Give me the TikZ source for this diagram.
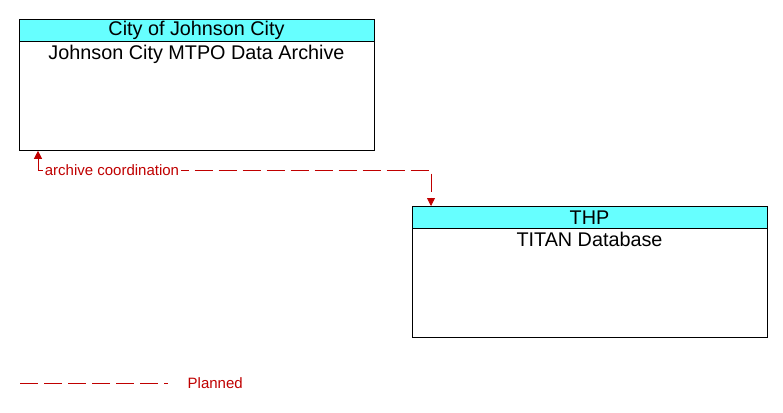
\documentclass[tikz,border=0pt]{standalone}
\usepackage{fontspec}
\setmainfont{Liberation Sans}
\usetikzlibrary{arrows.meta}
\definecolor{hdrcyan}{RGB}{102,255,255}
\definecolor{flowred}{RGB}{192,0,0}
\tikzset{
  head/.style={draw, fill=hdrcyan, minimum width=355pt, minimum height=22pt, inner sep=0pt, anchor=north, font=\fontsize{19.8}{20}\selectfont},
  body/.style={draw, fill=white, minimum width=355pt, minimum height=109pt, inner sep=0pt, anchor=north},
  bodytext/.style={anchor=north, inner sep=0pt, font=\fontsize{19.8}{20}\selectfont},
  flowline/.style={flowred, line width=0.8pt, dash pattern=on 18pt off 6pt},
  flowlabel/.style={text=flowred, fill=white, inner sep=1.5pt, font=\fontsize{15}{16}\selectfont}
}
\begin{document}
\begin{tikzpicture}[x=1pt, y=-1pt]
    \useasboundingbox (0,0) rectangle (783,412);

    % City of Johnson City
    \node[head] (cityhead) at (196.5,19) {City of Johnson City};
    \node[body] (archive) at (cityhead.south) {};
    \node[bodytext] (archivetext) at ([yshift=-4pt]archive.north) {Johnson City MTPO Data Archive};

    % THP
    \node[head] (thphead) at (589.5,206) {THP};
    \node[body] (titan) at (thphead.south) {};
    \node[bodytext] (titantext) at ([yshift=-4pt]titan.north) {TITAN Database};

    % archive coordination flow
    \coordinate (bend1) at (38,170);
    \coordinate (bend2) at (431,170);
    \draw[flowline, {Triangle[length=8pt,width=8pt]}-{Triangle[length=8pt,width=8pt]}]
        (archive.south -| bend1) -- (bend1) -- (bend2) -- (thphead.north -| bend2);
    \node[flowlabel] (coordlabel) at (112,170) {archive coordination};

    % legend
    \coordinate (legstart) at (20,383);
    \coordinate (legend) at (168,383);
    \draw[flowline] (legstart) -- (legend);
    \node[flowlabel, anchor=west] (planned) at (186,383) {Planned};
\end{tikzpicture}
\end{document}
